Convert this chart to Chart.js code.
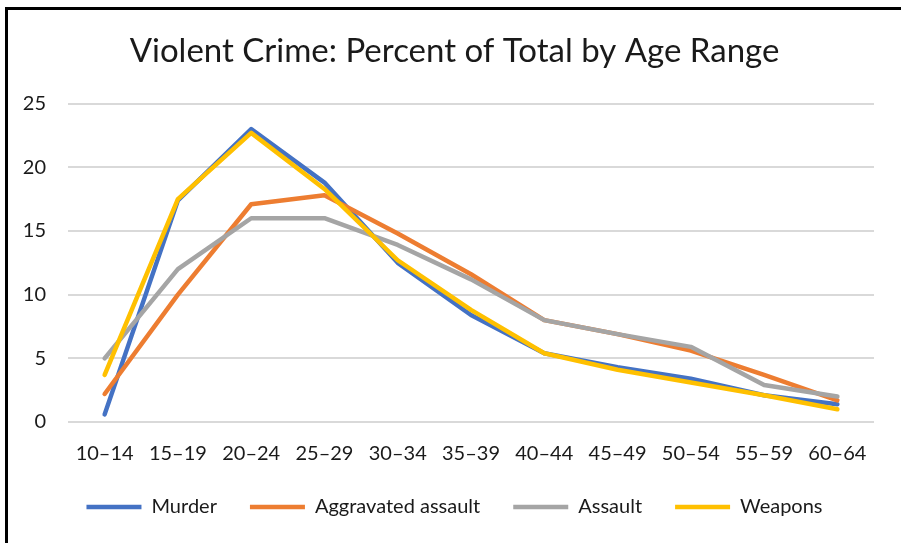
<!DOCTYPE html>
<html>
<head>
<meta charset="utf-8">
<script src="https://cdn.jsdelivr.net/npm/chart.js@4"></script>
<style>
  html, body { margin: 0; padding: 0; background: #fff; overflow: hidden; }
  #frame {
    position: absolute; left: 5px; top: 7px;
    width: 893px; height: 560px;
    border-top: 3px solid #000; border-left: 3px solid #000;
  }
</style>
</head>
<body>
<div id="frame"><canvas id="crimeChart" width="893" height="560"></canvas></div>
<script>
// Age ranges on the x axis
const ageRanges = ['10–14', '15–19', '20–24', '25–29', '30–34', '35–39', '40–44', '45–49', '50–54', '55–59', '60–64'];

// Percent of total
const murder = [0.6, 17.4, 23.0, 18.8, 12.5, 8.4, 5.4, 4.3, 3.4, 2.1, 1.4];
const aggravatedAssault = [2.2, 10.0, 17.1, 17.8, 14.8, 11.6, 8.0, 6.9, 5.6, 3.7, 1.7];
const assault = [5.0, 12.0, 16.0, 16.0, 13.9, 11.2, 8.0, 6.9, 5.9, 2.9, 2.0];
const weapons = [3.7, 17.5, 22.7, 18.3, 12.7, 8.8, 5.4, 4.1, 3.1, 2.1, 1.0];

const yTicks = [0, 5, 10, 15, 20, 25];

function series(label, data, color, order) {
  return {
    label: label,
    data: data,
    borderColor: color,
    backgroundColor: color,
    borderWidth: 4.5,
    borderJoinStyle: 'round',
    borderCapStyle: 'round',
    pointRadius: 0,
    pointStyle: 'line',
    tension: 0,
    fill: false,
    order: order
  };
}

// title and legend are centred on the whole canvas, like Excel does,
// and the legend sits a bit closer to the axis labels
const centreBoxes = {
  id: 'centreBoxes',
  afterLayout(chart) {
    chart.titleBlock.left = 0;
    chart.titleBlock.right = chart.width;
    chart.legend.left = 0;
    chart.legend.right = chart.width;
    chart.legend.top -= 22;
    chart.legend.bottom -= 22;
  }
};

new Chart(document.getElementById('crimeChart'), {
  type: 'line',
  data: {
    labels: ageRanges,
    datasets: [
      series('Murder', murder, '#4472C4', 4),
      series('Aggravated assault', aggravatedAssault, '#ED7D31', 3),
      series('Assault', assault, '#A5A5A5', 2),
      series('Weapons', weapons, '#FFC000', 1)
    ]
  },
  plugins: [centreBoxes],
  options: {
    responsive: false,
    animation: false,
    layout: {
      padding: { left: 0, right: 27, top: 0, bottom: 21 }
    },
    plugins: {
      title: {
        display: true,
        text: 'Violent Crime: Percent of Total by Age Range',
        color: '#1a1a1a',
        font: { family: 'Lato', size: 33, weight: 'normal' },
        padding: { top: 22, bottom: 32 }
      },
      legend: {
        position: 'bottom',
        labels: {
          usePointStyle: true,
          pointStyleWidth: 55,
          padding: 33,
          color: '#1a1a1a',
          font: { family: 'Lato', size: 20 },
          sort: (a, b) => a.datasetIndex - b.datasetIndex
        }
      },
      tooltip: { enabled: false }
    },
    scales: {
      x: {
        offset: true,
        grid: { display: false, drawTicks: false },
        border: { display: false },
        ticks: {
          color: '#1a1a1a',
          font: { family: 'Lato', size: 20 },
          padding: 20,
          maxRotation: 0,
          autoSkip: false
        }
      },
      y: {
        min: 0,
        max: 25,
        afterFit: (scale) => { scale.width = 60; },
        afterBuildTicks: (scale) => { scale.ticks = yTicks.map(v => ({ value: v })); },
        grid: { color: '#d9d9d9', lineWidth: 2, drawTicks: false },
        border: { display: false },
        ticks: {
          color: '#1a1a1a',
          font: { family: 'Lato', size: 20 },
          padding: 22
        }
      }
    }
  }
});
</script>
</body>
</html>
